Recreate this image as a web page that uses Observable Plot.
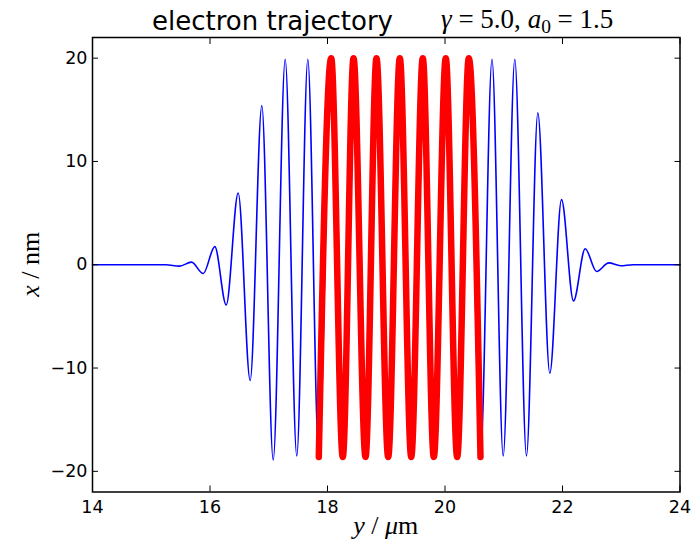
<!DOCTYPE html>
<html><head><meta charset="utf-8">
<script src="https://cdn.jsdelivr.net/npm/d3@7"></script>
<script src="https://cdn.jsdelivr.net/npm/@observablehq/plot@0.6"></script>
<style>
body{margin:0;background:#fff;}
#wrap{width:696px;height:541px;position:relative;overflow:hidden;background:#fff;}
#title{position:relative;height:32px;width:696px;}
#t1{position:absolute;left:152px;top:7.5px;font-family:"DejaVu Sans";font-size:26px;line-height:26px;white-space:nowrap;color:#000;}
#t2{position:absolute;left:441px;top:6px;font-family:"Liberation Serif";font-size:27px;line-height:27px;white-space:nowrap;color:#000;}
#t2 sub{font-size:0.72em;vertical-align:-0.25em;line-height:0;}
</style></head>
<body><div id="wrap"><div id="title"><span id="t1">electron trajectory</span><span id="t2"><i>γ</i> = 5.0, <i>a</i><sub>0</sub> = 1.5</span></div><div id="chart"></div></div>
<script>
// longitudinal position y (µm) of the trajectory's turning points
const posUm = [14.0, 15.25, 15.481, 15.685, 15.884, 16.082, 16.276, 16.480, 16.684, 16.882,
  17.076, 17.280, 17.477, 17.665, 17.852, 18.063, 18.260, 18.443, 18.647, 18.834,
  19.033, 19.231, 19.425, 19.622, 19.809, 20.013, 20.207, 20.405, 20.604, 20.800,
  20.991, 21.188, 21.387, 21.580, 21.784, 21.983, 22.187, 22.386, 22.579, 22.788,
  22.987, 23.2, 24.0];
// transverse displacement x (nm) at those points
const dispNm = [0, 0, -0.13, 0.25, -0.85, 1.75, -3.9, 6.95, -11.2, 15.4,
  -18.9, 19.9, -18.5, 19.9, -18.6, 20.0, -18.6, 20.0, -18.6, 20.0,
  -18.6, 20.0, -18.6, 20.0, -18.6, 20.0, -18.6, 20.0, -18.6, 19.9,
  -18.5, 19.9, -18.5, 14.7, -10.5, 6.3, -3.5, 1.55, -0.65, 0.18,
  -0.1, 0, 0];
// highlighted (red) part of the trajectory
const redStart = 17.852, redEnd = 20.604;
const xTicks = [14, 16, 18, 20, 22, 24];
const yTicks = [-20, -10, 0, 10, 20];
const xDomain = [14, 24];
const yDomain = [-22, 22];

const data = posUm.map((p, i) => ({p, d: dispNm[i]}));
const red = data.filter(o => o.p >= redStart && o.p <= redEnd);
const fmt = v => v < 0 ? "\u2212" + Math.abs(v) : String(v);

const W = 696, H = 509, mL = 92, mR = 16.5, mT = 5, mB = 49.5;
const chart = Plot.plot({
  width: W, height: H,
  marginTop: mT, marginBottom: mB, marginLeft: mL, marginRight: mR,
  style: {fontFamily: "DejaVu Sans", fontSize: "17.5px", color: "#000", background: "#fff", overflow: "visible"},
  x: {domain: xDomain, label: null},
  y: {domain: yDomain, label: null},
  marks: [
    Plot.line(data, {x: "p", y: "d", stroke: "#0000ff", strokeWidth: 1.6, curve: "monotone-x"}),
    Plot.line(red, {x: "p", y: "d", stroke: "#ff0000", strokeWidth: 6.5, curve: "monotone-x"}),
    Plot.axisX({anchor: "bottom", ticks: xTicks, tickSize: -6, tickPadding: 14.5, tickFormat: fmt, fontSize: 17.5, label: null}),
    Plot.axisX({anchor: "top", ticks: xTicks, tickSize: -6, fill: "none", label: null}),
    Plot.axisY({anchor: "left", ticks: yTicks, tickSize: -6, tickPadding: 11, tickFormat: fmt, fontSize: 17.5, label: null}),
    Plot.axisY({anchor: "right", ticks: yTicks, tickSize: -6, fill: "none", label: null}),
    Plot.frame({stroke: "#000", strokeWidth: 1.5})
  ]
});
document.getElementById("chart").appendChild(chart);

const svg = d3.select(chart);
const xl = svg.append("text")
  .attr("x", (mL + W - mR) / 2).attr("y", 502)
  .attr("text-anchor", "middle")
  .style("font-family", "'Liberation Serif'").style("font-size", "26px").attr("fill", "#000");
xl.append("tspan").style("font-style", "italic").text("y");
xl.append("tspan").text(" / ");
xl.append("tspan").style("font-style", "italic").text("μ");
xl.append("tspan").text("m");

const yl = svg.append("text")
  .attr("transform", `translate(39,${mT + (H - mT - mB) / 2}) rotate(-90)`)
  .attr("text-anchor", "middle")
  .style("font-family", "'Liberation Serif'").style("font-size", "26px").attr("fill", "#000");
yl.append("tspan").style("font-style", "italic").text("x");
yl.append("tspan").text(" / nm");
</script>
</body></html>
